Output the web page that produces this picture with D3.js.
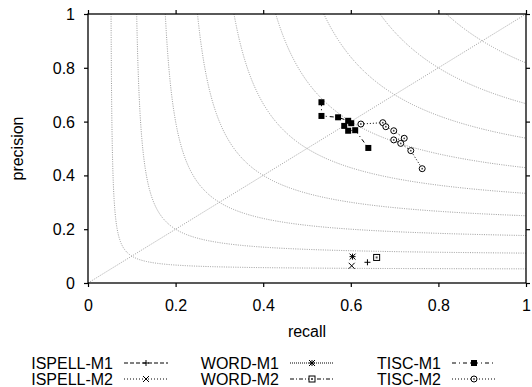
<!DOCTYPE html>
<html>
<head>
<meta charset="utf-8">
<script src="https://cdn.jsdelivr.net/npm/d3@7"></script>
<style>
  html, body { margin: 0; padding: 0; background: #fff; }
  svg { display: block; font-family: "Liberation Sans", Arial, Helvetica, sans-serif; }
</style>
</head>
<body>
<svg id="chart" width="532" height="387"></svg>
<script>
// ---- data ----
const tickValues = [0, 0.2, 0.4, 0.6, 0.8, 1];
const tickLabels = ["0", "0.2", "0.4", "0.6", "0.8", "1"];
const fLevels = [0.1, 0.2, 0.3, 0.4, 0.5, 0.6, 0.7, 0.8, 0.9];

const ispellM1 = [{r: 0.638, p: 0.077}];
const ispellM2 = [{r: 0.602, p: 0.064}];
const wordM1 = [{r: 0.604, p: 0.098}];
const wordM2 = [{r: 0.659, p: 0.095}];
const tiscM1 = [
  {r: 0.533, p: 0.672}, {r: 0.533, p: 0.621}, {r: 0.571, p: 0.616},
  {r: 0.594, p: 0.603}, {r: 0.601, p: 0.594}, {r: 0.585, p: 0.584},
  {r: 0.594, p: 0.566}, {r: 0.610, p: 0.568}, {r: 0.640, p: 0.502}
];
const tiscM2 = [
  {r: 0.623, p: 0.591}, {r: 0.673, p: 0.596}, {r: 0.680, p: 0.581},
  {r: 0.698, p: 0.566}, {r: 0.722, p: 0.538}, {r: 0.698, p: 0.532},
  {r: 0.714, p: 0.519}, {r: 0.737, p: 0.492}, {r: 0.763, p: 0.425}
];
const seriesNames = ["ISPELL-M1", "ISPELL-M2", "WORD-M1", "WORD-M2", "TISC-M1", "TISC-M2"];

// ---- layout ----
const svg = d3.select("#chart");
const X0 = 88, X1 = 526, Y0 = 283, Y1 = 14;
const x = d3.scaleLinear().domain([0, 1]).range([X0, X1]);
const y = d3.scaleLinear().domain([0, 1]).range([Y0, Y1]);

const series = [
  {name: seriesNames[0], data: ispellM1, dash: "4,2", marker: "plus"},
  {name: seriesNames[1], data: ispellM2, dash: "1,2", marker: "cross"},
  {name: seriesNames[2], data: wordM1, dash: "1,1", marker: "star"},
  {name: seriesNames[3], data: wordM2, dash: "4,2,1,2", marker: "box"},
  {name: seriesNames[4], data: tiscM1, dash: "4,3,1,3", marker: "fbox"},
  {name: seriesNames[5], data: tiscM2, dash: "1,2", marker: "circle"}
];

// ---- iso-F curves ----
const gridG = svg.append("g");
const line = d3.line().x(d => x(d.r)).y(d => y(d.p));
fLevels.forEach(F => {
  const rmin = F / (2 - F);
  const pts = [];
  const n = 600;
  for (let i = 0; i <= n; i++) {
    const t = i / n;
    const r = rmin + (1 - rmin) * t * t;
    const p = F * r / (2 * r - F);
    pts.push({r, p: Math.min(p, 1)});
  }
  gridG.append("path").attr("d", line(pts))
    .attr("fill", "none").attr("stroke", "#999")
    .attr("stroke-width", 1).attr("stroke-dasharray", "1,1.3");
});
// diagonal
gridG.append("path").attr("d", line([{r: 0, p: 0}, {r: 1, p: 1}]))
  .attr("fill", "none").attr("stroke", "#999")
  .attr("stroke-width", 0.9).attr("stroke-dasharray", "1,1.3");

// ---- axes ----
const fmt = (d) => tickLabels[tickValues.indexOf(d)];
const axG = svg.append("g");
const xb = axG.append("g").attr("transform", `translate(0,${Y0})`)
  .call(d3.axisBottom(x).tickValues(tickValues).tickFormat(fmt).tickSizeInner(4).tickSizeOuter(0).tickPadding(12.5));
const xt = axG.append("g").attr("transform", `translate(0,${Y1})`)
  .call(d3.axisTop(x).tickValues(tickValues).tickFormat("").tickSizeInner(4).tickSizeOuter(0));
const yl = axG.append("g").attr("transform", `translate(${X0},0)`)
  .call(d3.axisLeft(y).tickValues(tickValues).tickFormat(fmt).tickSizeInner(4).tickSizeOuter(0).tickPadding(9));
const yr = axG.append("g").attr("transform", `translate(${X1},0)`)
  .call(d3.axisRight(y).tickValues(tickValues).tickFormat("").tickSizeInner(4).tickSizeOuter(0));
[xb, xt, yl, yr].forEach(g => g.attr("font-size", 16).attr("font-family", null));
axG.selectAll(".domain").remove();
axG.selectAll(".tick line").attr("stroke", "#000").attr("stroke-width", 1.2);
axG.selectAll("text").attr("fill", "#000");
yl.selectAll("text").attr("dy", "0.34em");
// frame
svg.append("rect").attr("x", X0).attr("y", Y1).attr("width", X1 - X0).attr("height", Y0 - Y1)
  .attr("fill", "none").attr("stroke", "#000").attr("stroke-width", 1.3);

// axis titles
svg.append("text").attr("x", (X0 + X1) / 2).attr("y", 337).attr("text-anchor", "middle")
  .attr("font-size", 16).text("recall");
svg.append("text").attr("transform", `translate(23,${(Y0 + Y1) / 2}) rotate(-90)`)
  .attr("text-anchor", "middle").attr("font-size", 16).text("precision");

// ---- markers ----
function drawMarker(g, type, cx, cy) {
  const s = 3;
  const m = g.append("g").attr("transform", `translate(${cx},${cy})`);
  const st = (el) => el.attr("stroke", "#000").attr("stroke-width", 1);
  if (type === "plus" || type === "star") {
    st(m.append("path").attr("d", `M${-s},0H${s}M0,${-s}V${s}`));
  }
  if (type === "cross" || type === "star") {
    st(m.append("path").attr("d", `M${-s},${-s}L${s},${s}M${-s},${s}L${s},${-s}`));
  }
  if (type === "box") {
    st(m.append("rect").attr("x", -s).attr("y", -s).attr("width", 2 * s).attr("height", 2 * s).attr("fill", "#fff"));
    m.append("rect").attr("x", -1).attr("y", -1).attr("width", 2).attr("height", 2).attr("fill", "#555");
  }
  if (type === "fbox") {
    m.append("rect").attr("x", -s).attr("y", -s).attr("width", 2 * s).attr("height", 2 * s).attr("fill", "#000");
  }
  if (type === "circle") {
    st(m.append("circle").attr("r", s).attr("fill", "#fff"));
    m.append("circle").attr("r", 0.9).attr("fill", "#444");
  }
}

// ---- series ----
const dataG = svg.append("g");
series.forEach(s => {
  if (s.data.length > 1) {
    dataG.append("path").attr("d", line(s.data)).attr("fill", "none")
      .attr("stroke", "#000").attr("stroke-width", 1).attr("stroke-dasharray", s.dash);
  }
});
series.forEach(s => {
  s.data.forEach(d => drawMarker(dataG, s.marker, x(d.r), y(d.p)));
});

// ---- legend ----
const legG = svg.append("g").attr("font-size", 16);
const colTextEnd = [113, 279, 441];
const rowBase = [369, 385];
series.forEach((s, i) => {
  const col = Math.floor(i / 2), row = i % 2;
  const tx = colTextEnd[col], ty = rowBase[row];
  legG.append("text").attr("x", tx).attr("y", ty).attr("text-anchor", "end").text(s.name);
  const lx0 = tx + 11, lx1 = tx + 55, ly = ty - 6;
  legG.append("line").attr("x1", lx0).attr("x2", lx1).attr("y1", ly).attr("y2", ly)
    .attr("stroke", "#000").attr("stroke-width", 1).attr("stroke-dasharray", s.dash);
  drawMarker(legG, s.marker, (lx0 + lx1) / 2, ly);
});
</script>
</body>
</html>
